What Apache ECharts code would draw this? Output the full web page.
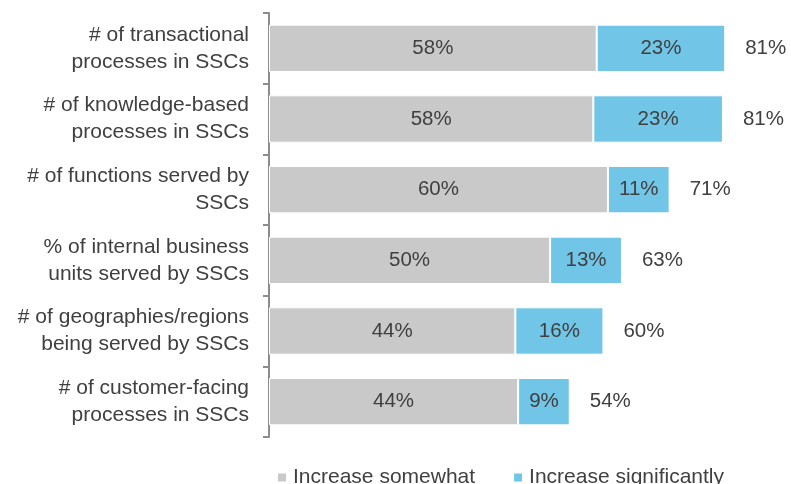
<!DOCTYPE html>
<html>
<head>
<meta charset="utf-8">
<script src="https://cdn.jsdelivr.net/npm/echarts@6/dist/echarts.min.js"></script>
<style>html,body{margin:0;padding:0;background:#fff}#c{width:791px;height:484px}</style>
</head>
<body>
<div id="c"></div>
<script>
const categories = [
  "# of transactional\nprocesses in SSCs",
  "# of knowledge-based\nprocesses in SSCs",
  "# of functions served by\nSSCs",
  "% of internal business\nunits served by SSCs",
  "# of geographies/regions\nbeing served by SSCs",
  "# of customer-facing\nprocesses in SSCs"
];
const seriesNames = ["Increase somewhat", "Increase significantly"];
const somewhat = [58.4, 57.8, 60.4, 50.1, 43.9, 44.4];
const significantly = [22.9, 23.1, 11.0, 12.8, 15.7, 9.2];
const totals = somewhat.map((v, i) => v + significantly[i]);

const font = "Liberation Sans, Arial, sans-serif";
const txt = "#404040";
const pct = p => Math.round(p.value) + "%";

const chart = echarts.init(document.getElementById("c"), null, {renderer: "canvas"});
chart.setOption({
  animation: false,
  backgroundColor: "#fff",
  textStyle: {fontFamily: font, color: txt},
  grid: {left: 269, top: 13, height: 424, width: 505, containLabel: false},
  xAxis: {type: "value", min: 0, max: 90, show: false},
  yAxis: {
    type: "category", data: categories, inverse: true,
    axisLine: {show: true, lineStyle: {color: "#8c8c8c", width: 2}},
    axisTick: {show: true, length: 6, lineStyle: {color: "#8c8c8c", width: 2}},
    axisLabel: {margin: 20, fontSize: 21, lineHeight: 27, color: txt, fontFamily: font, align: "right"}
  },
  legend: {
    data: seriesNames, left: 271, top: 462, itemWidth: 10, itemHeight: 10, itemGap: 37,
    icon: "rect", textStyle: {fontSize: 21, color: txt, fontFamily: font, padding: [0, 0, 0, 1]}
  },
  series: [
    {name: seriesNames[0], type: "bar", stack: "s", data: somewhat, barCategoryGap: "33%",
     itemStyle: {color: "#C9C9C9", borderColor: "#fff", borderWidth: 1},
     label: {show: true, position: "inside", fontSize: 20.5, color: txt, fontFamily: font, formatter: pct}},
    {name: seriesNames[1], type: "bar", stack: "s", data: significantly,
     itemStyle: {color: "#71C5E7", borderColor: "#fff", borderWidth: 1},
     label: {show: true, position: "inside", fontSize: 20.5, color: txt, fontFamily: font, formatter: pct}},
    {name: "Total", type: "bar", stack: "s", data: totals.map(() => 0),
     itemStyle: {color: "rgba(0,0,0,0)", borderWidth: 0},
     label: {show: true, position: "right", distance: 20, fontSize: 20.5, color: txt, fontFamily: font,
       formatter: p => Math.round(totals[p.dataIndex]) + "%"}}
  ]
});
</script>
</body>
</html>
